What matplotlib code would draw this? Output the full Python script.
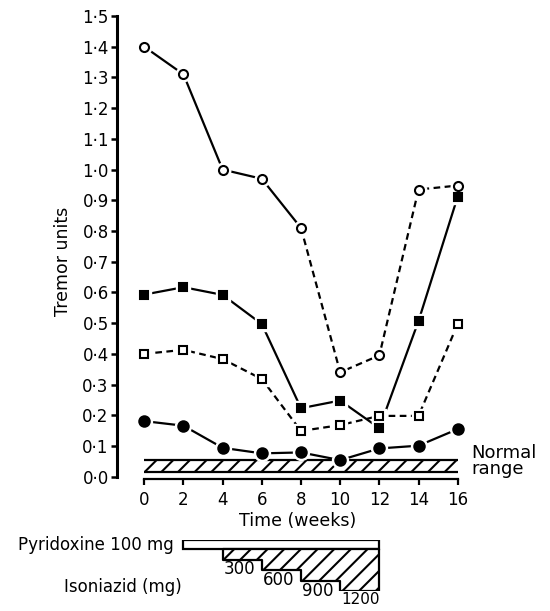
import matplotlib
matplotlib.use("Agg")
import matplotlib.pyplot as plt
from matplotlib.patches import Rectangle

plt.rcParams["font.family"] = ["DejaVu Sans"]
plt.rcParams["font.size"] = 12
plt.rcParams["hatch.linewidth"] = 1.5
plt.rcParams["hatch.color"] = "black"

# data
weeks = [0, 2, 4, 6, 8, 10, 12, 14, 16]
open_circles = [1.40, 1.31, 1.00, 0.97, 0.81, 0.34, 0.395, 0.935, 0.948]
filled_squares = [0.593, 0.617, 0.592, 0.497, 0.223, 0.248, 0.158, 0.507, 0.912]
open_squares = [0.400, 0.413, 0.383, 0.318, 0.149, 0.168, 0.198, 0.198, 0.497]
filled_circles = [0.181, 0.166, 0.094, 0.076, 0.079, 0.054, 0.092, 0.101, 0.155]

normal_range = (0.015, 0.055)
y_ticks = [0.0, 0.1, 0.2, 0.3, 0.4, 0.5, 0.6, 0.7, 0.8, 0.9, 1.0, 1.1, 1.2, 1.3, 1.4, 1.5]

pyridoxine_weeks = (2, 12)
isoniazid_start = [4, 6, 8, 10]
isoniazid_end = 12
isoniazid_dose = [300, 600, 900, 1200]

DASH = (0, (3, 2))
LW = 1.6

fig = plt.figure(figsize=(5.5, 6.11), dpi=100)
ax = fig.add_axes([0.2127, 0.2198, 0.6551, 0.7540])


def markers(x, y, marker, filled, ms):
    # white halo leaves a small gap between line and symbol
    ax.plot(x, y, linestyle="none", marker=marker, ms=ms + 4, mfc="white",
            mec="white", zorder=3)
    ax.plot(x, y, linestyle="none", marker=marker, ms=ms,
            mfc="black" if filled else "white", mec="black", mew=1.5, zorder=4)


# open circles: solid up to week 8, dashed after
ax.plot(weeks[:5], open_circles[:5], color="black", lw=LW, zorder=2)
ax.plot(weeks[4:], open_circles[4:], color="black", lw=LW, linestyle=DASH, zorder=2)
ax.plot(weeks, filled_squares, color="black", lw=LW, zorder=2)
ax.plot(weeks, open_squares, color="black", lw=LW, linestyle=DASH, zorder=2)
ax.plot(weeks, filled_circles, color="black", lw=LW, zorder=2)

markers(weeks, open_circles, "o", False, 6.5)
markers(weeks, filled_squares, "s", True, 6.3)
markers(weeks, open_squares, "s", False, 5.5)
markers(weeks, filled_circles, "o", True, 7.5)

# normal range band
ax.fill_between([weeks[0], weeks[-1]], normal_range[0], normal_range[1],
                facecolor="white", edgecolor="black", hatch="//", lw=0, zorder=1)
ax.hlines(normal_range, weeks[0], weeks[-1], color="black", lw=1.6, zorder=1)
ax.text(16.7, 0.05, "Normal\nrange", va="center", ha="left", linespacing=0.85,
        fontsize=13, clip_on=False)

ax.set_xlim(-1.393, 17)
ax.set_ylim(0, 1.5)
ax.spines["top"].set_visible(False)
ax.spines["right"].set_visible(False)
ax.spines["left"].set_bounds(0, 1.5)
ax.spines["left"].set_linewidth(2.2)
ax.spines["bottom"].set_bounds(0, 16)
ax.spines["bottom"].set_linewidth(1.6)
ax.spines["bottom"].set_position(("outward", 1.5))

ax.set_yticks(y_ticks)
ax.set_yticklabels([f"{v:.1f}".replace(".", "\u00b7") for v in y_ticks])
ax.set_xticks(weeks)
ax.tick_params(axis="y", direction="out", length=4.5, width=1.8, pad=1.5)
ax.tick_params(axis="x", direction="out", length=4, width=1.6, pad=5)
ax.set_xlabel("Time (weeks)", labelpad=2, fontsize=12.5)
fig.text(63 / 550, 1 - 261 / 611, "Tremor units", rotation=90,
         ha="center", va="center", fontsize=12.5)

# dosing schedule panel
ax2 = fig.add_axes([0.2127, 0.0322, 0.6551, 0.0840])
ax2.set_xlim(ax.get_xlim())
ax2.set_ylim(1200, -265)
ax2.axis("off")

ax2.add_patch(Rectangle((pyridoxine_weeks[0], -265),
                        pyridoxine_weeks[1] - pyridoxine_weeks[0], 265,
                        facecolor="white", edgecolor="black", lw=1.6))
ax2.fill_between(isoniazid_start + [isoniazid_end], 0,
                 isoniazid_dose + [isoniazid_dose[-1]], step="post",
                 facecolor="white", edgecolor="black", hatch="//", lw=1.6)
for x0, d in zip(isoniazid_start, isoniazid_dose):
    ax2.annotate(str(d), xy=(x0, d), xytext=(0.5, -0.5), textcoords="offset points",
                 ha="left", va="top", fontsize=12 if d < 1200 else 11,
                 annotation_clip=False)
ax2.annotate("Pyridoxine 100 mg", xy=(pyridoxine_weeks[0], -132),
             xytext=(-7, 0), textcoords="offset points", ha="right", va="center",
             annotation_clip=False)
ax2.text(1.9, 1077, "Isoniazid (mg)", ha="right", va="center", clip_on=False)

fig.savefig("out.png", dpi=100)
